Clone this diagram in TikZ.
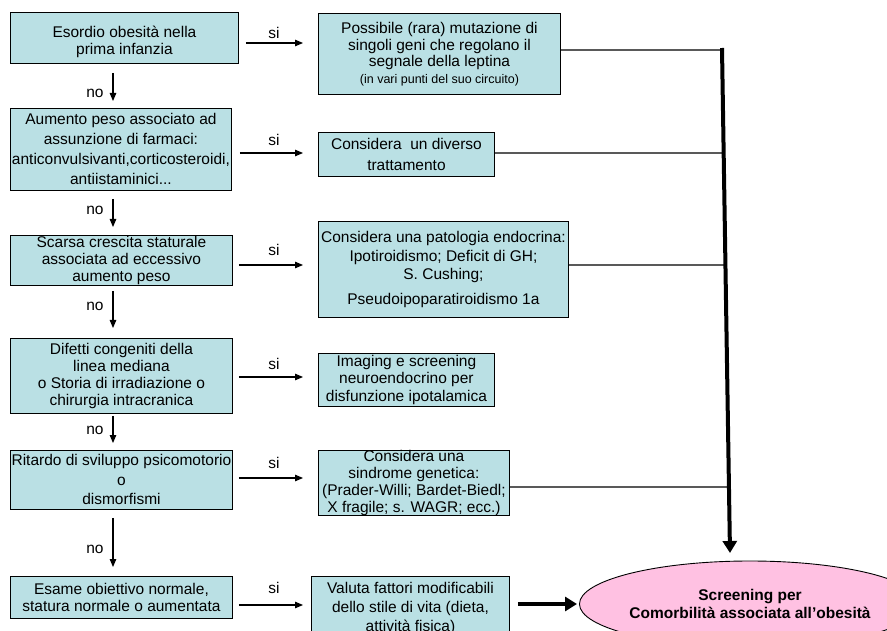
\documentclass[tikz,border=0pt]{standalone}
\usepackage{fontspec}
\setmainfont{Liberation Sans}
\usetikzlibrary{arrows.meta,shapes.geometric,calc}
\definecolor{boxfill}{RGB}{186,224,228}
\definecolor{ellfill}{RGB}{255,193,226}
\begin{document}
\begin{tikzpicture}[x=1pt,y=-1pt,
  box/.style={draw=black,line width=0.9pt,fill=boxfill,align=center,inner sep=0pt,anchor=north west,font=\fontsize{15.5}{17}\selectfont},
  arr/.style={line width=1.1pt,-{Triangle[length=8pt,width=6.5pt]}},
  thk/.style={line width=4pt,-{Triangle[length=12pt,width=14pt]}},
  conn/.style={line width=1.2pt,draw=black!65},
  lbl/.style={font=\fontsize{15.5}{17}\selectfont,inner sep=0pt}]
\useasboundingbox (0,0) rectangle (887,631);

% left column
\node[box,minimum width=228pt,minimum height=51pt] (L1) at (10,12) {\rule{0pt}{20pt}Esordio obesità nella\\prima infanzia};
\node[box,minimum width=221pt,minimum height=82pt,font=\fontsize{15.5}{20}\selectfont] (L2) at (10,108) {Aumento peso associato ad\\assunzione di farmaci:\\anticonvulsivanti,corticosteroidi,\\antiistaminici...};
\node[box,minimum width=222pt,minimum height=50pt] (L3) at (10,235) {Scarsa crescita staturale\\associata ad eccessivo\\aumento peso};
\node[box,minimum width=222pt,minimum height=75pt] (L4) at (10,338) {Difetti congeniti della\\linea mediana\\o Storia di irradiazione o\\chirurgia intracranica};
\node[box,minimum width=222pt,minimum height=59pt,font=\fontsize{15.5}{19.5}\selectfont] (L5) at (10,450) {Ritardo di sviluppo psicomotorio\\o\\dismorfismi};
\node[box,minimum width=222pt,minimum height=42pt] (L6) at (10,576) {Esame obiettivo normale,\\statura normale o aumentata};

% right column
\node[box,minimum width=242pt,minimum height=81pt,font=\fontsize{15.5}{16.5}\selectfont] (R1) at (318,13) {Possibile (rara) mutazione di\\singoli geni che regolano il\\segnale della leptina\\{\fontsize{12.5}{16.5}\selectfont (in vari punti del suo circuito)}};
\node[box,minimum width=176pt,minimum height=44pt,font=\fontsize{15.5}{21}\selectfont] (R2) at (318,132) {Considera~ un diverso\\trattamento};
\node[box,minimum width=250pt,minimum height=96pt,font=\fontsize{15.5}{18.5}\selectfont] (R3) at (318,221) {Considera una patologia endocrina:\\Ipotiroidismo; Deficit di GH;\\S. Cushing;\\[6pt]Pseudoipoparatiroidismo 1a};
\node[box,minimum width=176pt,minimum height=53pt,font=\fontsize{15.5}{17.5}\selectfont] (R4) at (318,353) {Imaging e screening\\neuroendocrino per\\disfunzione ipotalamica};
\node[box,minimum width=191pt,minimum height=63pt,font=\fontsize{15.5}{16.8}\selectfont] (R5) at (318,450) {Considera una\\sindrome genetica:\\(Prader-Willi; Bardet-Biedl;\\X fragile; s. WAGR; ecc.)};
\node[box,minimum width=198pt,minimum height=64pt,font=\fontsize{15.5}{19}\selectfont] (R6) at (311,576) {Valuta fattori modificabili\\dello stile di vita (dieta,\\attività fisica)};

% target ellipse
\node[ellipse,draw=black,line width=0.9pt,fill=ellfill,minimum width=271pt,minimum height=86pt,inner sep=0pt,align=center,font=\fontsize{15.5}{18}\selectfont\bfseries] (E) at (750,604) {Screening per\\Comorbilità associata all’obesità};

% vertical "no" arrows
\coordinate (ax) at (113,0);
\draw[arr,shorten <=9pt,shorten >=7pt] (L1.south -| ax) -- (L2.north -| ax);
\draw[arr,shorten <=8pt,shorten >=8pt] (L2.south -| ax) -- (L3.north -| ax);
\draw[arr,shorten <=5pt,shorten >=10pt] (L3.south -| ax) -- (L4.north -| ax);
\draw[arr,shorten <=2pt,shorten >=7pt] (L4.south -| ax) -- (L5.north -| ax);
\draw[arr,shorten <=8pt,shorten >=9pt] (L5.south -| ax) -- (L6.north -| ax);
\node[lbl] (n1) at (95,93) {no};
\node[lbl] (n2) at (95,210) {no};
\node[lbl] (n3) at (95,306) {no};
\node[lbl] (n4) at (95,430) {no};
\node[lbl] (n5) at (95,549) {no};

% horizontal "si" arrows
\coordinate (y1) at (0,43);
\coordinate (y2) at (0,153);
\coordinate (y3) at (0,265);
\coordinate (y4) at (0,377);
\coordinate (y5) at (0,478);
\coordinate (y6) at (0,605);
\draw[arr,shorten <=7pt,shorten >=15pt] (L1.east |- y1) -- (R1.west |- y1);
\draw[arr,shorten <=8pt,shorten >=15pt] (L2.east |- y2) -- (R2.west |- y2);
\draw[arr,shorten <=6pt,shorten >=15pt] (L3.east |- y3) -- (R3.west |- y3);
\draw[arr,shorten <=6pt,shorten >=15pt] (L4.east |- y4) -- (R4.west |- y4);
\draw[arr,shorten <=6pt,shorten >=15pt] (L5.east |- y5) -- (R5.west |- y5);
\draw[arr,shorten <=6pt,shorten >=8pt] (L6.east |- y6) -- (R6.west |- y6);
\node[lbl] (s1) at (274,33) {si};
\node[lbl] (s2) at (274,140) {si};
\node[lbl] (s3) at (274,250) {si};
\node[lbl] (s4) at (274,364) {si};
\node[lbl] (s5) at (274,463) {si};
\node[lbl] (s6) at (274,588) {si};

% collector line
\coordinate (c1) at (722,50);
\coordinate (c2) at (723.6,153);
\coordinate (c3) at (725.4,265);
\coordinate (c5) at (729,487);
\coordinate (ctop) at (722,48);
\coordinate (cbot) at (730,553);
\draw[conn] (R1.east |- c1) -- (c1);
\draw[conn] (R2.east |- c2) -- (c2);
\draw[conn] (R3.east |- c3) -- (c3);
\draw[conn] (R5.east |- c5) -- (c5);
\draw[thk] (ctop) -- (cbot);

% thick arrow into ellipse
\draw[thk,shorten <=8pt,shorten >=2pt] (R6.east |- E.west) -- (E.west);
\end{tikzpicture}
\end{document}
